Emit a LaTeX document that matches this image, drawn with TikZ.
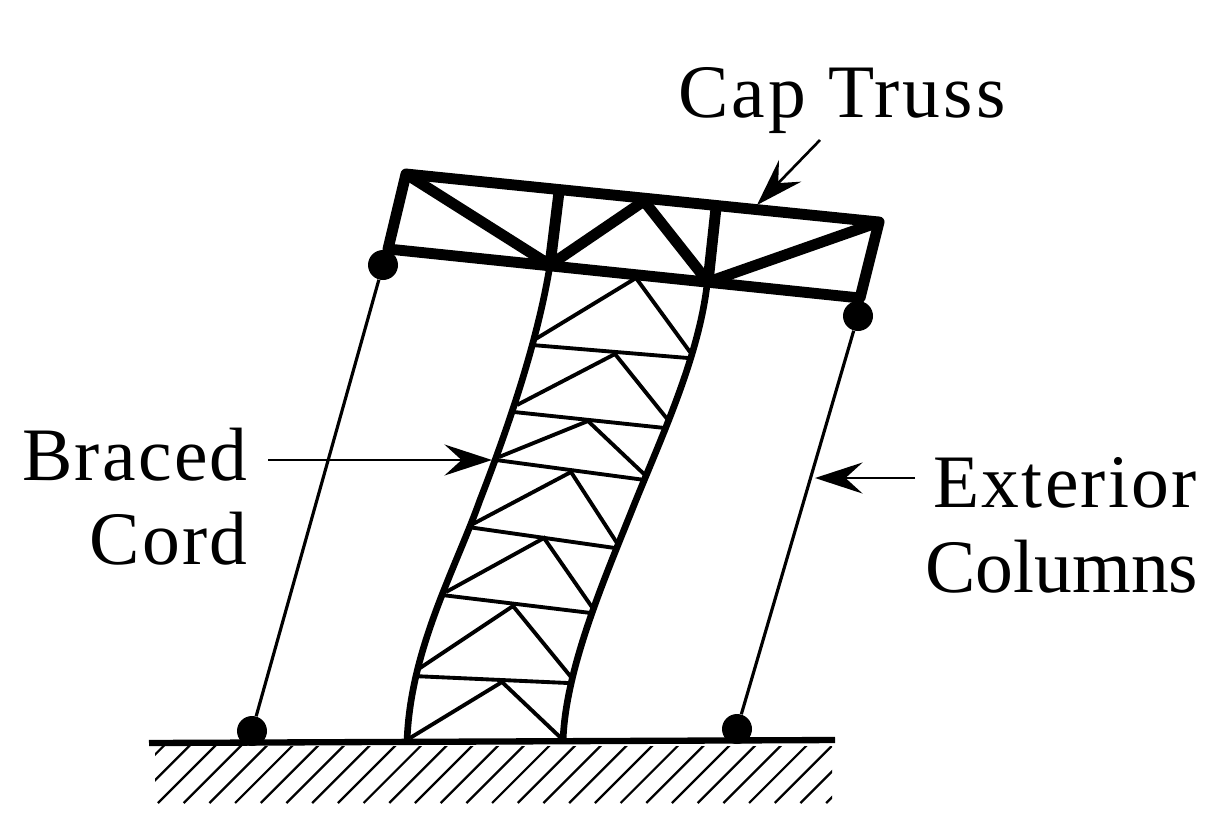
\documentclass[tikz,border=0pt]{standalone}
\usepackage{fontspec}
\setmainfont[LetterSpace=3]{Liberation Serif}
\usetikzlibrary{arrows.meta}
\tikzset{
  truss/.style = {line width = 6.2pt, black, line cap = round, line join = round},
  chord/.style = {line width = 3.8pt, black},
  floorbeam/.style = {line width = 2.2pt, black},
  brace/.style = {line width = 2.2pt, black},
  column/.style = {line width = 1.8pt, black},
  hinge/.style = {circle, fill = black, minimum size = 0.6cm, inner sep = 0},
  pointer/.style = {line width = 1.5pt, -{Stealth[length = 0.95cm, width = 0.62cm, inset = 0.34cm]}},
  caption/.style = {font = \fontsize{43}{43}\selectfont, inner sep = 0}
}
\begin{document}
\begin{tikzpicture}[x = 0.02cm, y = -0.02cm]
  \useasboundingbox (0,0) rectangle (1220,826);

  \coordinate (tl) at (406,174);
  \coordinate (tr) at (879,222);
  \coordinate (bl) at (388,249);
  \coordinate (br) at (860,298);
  \coordinate (na) at (550,265);
  \coordinate (nb) at (708,282);
  \coordinate (apex) at (644,201);
  \coordinate (ta) at (559,192);
  \coordinate (tb) at (716,208);

  % cap truss
  \draw[truss] (bl)--(tl)--(tr)--(br)--cycle;
  \draw[truss]
    (tl)--(na)--(apex)--(nb)--(tr)
    (na)--(ta)
    (nb)--(tb)
  ;

  % core
  \draw[chord] (550,265) .. controls (537,345) and (506,433) .. (480,500)
    .. controls (455,570) and (410,650) .. (407,742);
  \draw[chord] (707,285) .. controls (698,360) and (660,440) .. (632,510)
    .. controls (604,580) and (565,670) .. (563,742);

  \draw[floorbeam]
    (532,345)--(688,358)
    (514,412)--(665,428)
    (496,460)--(645,480)
    (468,527)--(615,548)
    (442,595)--(591,613)
    (413,676)--(568,683)
  ;
  \foreach \lx/\ly/\px/\py/\rx/\ry in {
    534/340/636/278/690/352,
    517/405/615/354/668/420,
    499/457/588/421/645/475,
    471/525/571/472/617/543,
    446/592/544/538/594/610,
    417/670/513/606/571/677,
    410/738/502/682/561/738} {
    \draw[brace] (\lx,\ly)--(\px,\py)--(\rx,\ry);
  }

  % ground
  \begin{scope}
    \clip (155,746) rectangle (832,806);
    \foreach \k in {-2,-1,...,26} {
      \draw[line width = 1.3pt] (158+25.7*\k,803)--(158+25.7*\k+60,743);
    }
  \end{scope}
  \draw[line width = 3.6pt] (149,743)--(835,740);

  % columns
  \node[hinge] (hingetl) at (383,265) {};
  \node[hinge] (hingetr) at (858,316) {};
  \node[hinge] (hingebl) at (252,731) {};
  \node[hinge] (hingebr) at (737,729) {};
  \draw[column] (hingetl)--(hingebl);
  \draw[column] (hingetr)--(hingebr);

  % labels
  \node[caption, anchor = base] (captruss) at (842,117) {\addfontfeature{LetterSpace=4}Cap Truss};
  \node[caption, anchor = base east] (braced) at (248,480) {Braced};
  \node[caption, anchor = base east] (cord) at (248,564) {Cord};
  \node[caption, anchor = base west] (exterior) at (933,507) {Exterior};
  \node[caption, anchor = base west] (columns) at (925,592) {\addfontfeature{LetterSpace=0}Columns};

  \coordinate (captail) at (820,140);
  \coordinate (captip) at (757,205);
  \coordinate (bracedtail) at (268,460);
  \coordinate (bracedtip) at (492,460);
  \coordinate (exteriortail) at (915,478);
  \coordinate (exteriortip) at (815,478);
  \draw[pointer] (captail)--(captip);
  \draw[pointer] (bracedtail)--(bracedtip);
  \draw[pointer] (exteriortail)--(exteriortip);
\end{tikzpicture}
\end{document}
